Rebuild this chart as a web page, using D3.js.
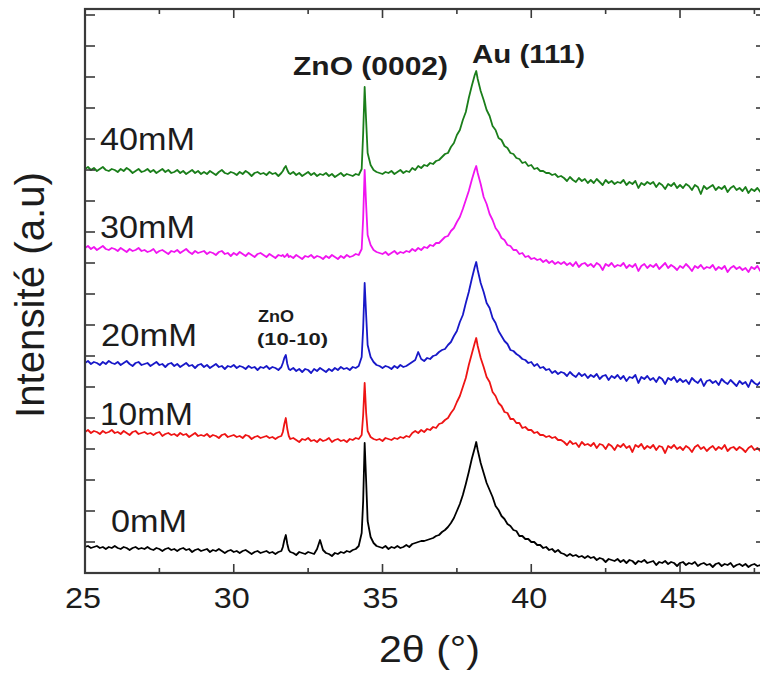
<!DOCTYPE html>
<html><head><meta charset="utf-8">
<script src="https://cdn.jsdelivr.net/npm/d3@7"></script>
<style>html,body{margin:0;padding:0;background:#fff;} svg{display:block;}</style>
</head><body><svg id="c" width="760" height="673"></svg>
<script>
// ---------- DATA (intensity in a.u.) ----------
const theta = [
25.0,25.1,25.2,25.3,25.4,25.5,25.6,25.7,25.8,25.9,
26.0,26.1,26.2,26.3,26.4,26.5,26.6,26.7,26.8,26.9,
27.0,27.1,27.2,27.3,27.4,27.5,27.6,27.7,27.8,27.9,
28.0,28.1,28.2,28.3,28.4,28.5,28.6,28.7,28.8,28.9,
29.0,29.1,29.2,29.3,29.4,29.5,29.6,29.7,29.8,29.9,
30.0,30.1,30.2,30.3,30.4,30.5,30.6,30.7,30.8,30.9,
31.0,31.1,31.2,31.3,31.4,31.5,31.6,
31.65,31.7,31.75,31.8,31.85,
31.9,32.0,32.1,32.2,32.3,32.4,32.5,32.6,32.7,32.8,32.9,
33.0,33.1,33.2,33.3,33.4,33.5,33.6,33.7,33.8,33.9,
34.0,34.1,34.2,34.3,
34.35,34.4,34.45,34.5,
34.6,34.7,34.8,34.9,
35.0,35.1,35.2,35.3,35.4,35.5,35.6,35.7,35.8,35.9,
36.0,36.1,36.2,36.3,36.4,36.5,36.6,36.7,36.8,36.9,
37.0,37.1,37.2,37.3,37.4,37.5,37.6,37.7,37.8,37.9,
38.0,38.1,38.15,38.2,38.3,38.4,38.5,38.6,38.7,38.8,38.9,
39.0,39.1,39.2,39.3,39.4,39.5,39.6,39.7,39.8,39.9,
40.0,40.1,40.2,40.3,40.4,40.5,40.6,40.7,40.8,40.9,
41.0,41.1,41.2,41.3,41.4,41.5,41.6,41.7,41.8,41.9,
42.0,42.1,42.2,42.3,42.4,42.5,42.6,42.7,42.8,42.9,
43.0,43.1,43.2,43.3,43.4,43.5,43.6,43.7,43.8,43.9,
44.0,44.1,44.2,44.3,44.4,44.5,44.6,44.7,44.8,44.9,
45.0,45.1,45.2,45.3,45.4,45.5,45.6,45.7,45.8,45.9,
46.0,46.1,46.2,46.3,46.4,46.5,46.6,46.7,46.8,46.9,
47.0,47.1,47.2,47.3,47.4,47.5,47.6,47.7,47.8,47.9
];

const int0mM = [
26,27,25,26,27,25,26,24,26,25,
27,25,24,26,25,23,25,26,24,25,
24,26,24,23,25,24,22,24,25,23,
24,22,24,25,23,24,21,23,24,22,
23,24,21,23,22,24,22,20,22,23,
21,22,20,22,23,21,19,21,22,20,
21,22,20,21,19,21,22,
26,33,38,29,23,
21,20,18,21,20,19,21,20,19,24,33,
23,20,19,17,20,19,21,20,22,21,
23,24,27,40,
72,130,92,52,
36,30,27,26,
25,27,24,26,25,27,25,26,28,26,
29,30,31,32,32,33,34,35,37,38,
41,43,46,50,55,62,69,78,89,101,
114,125,131,123,110,100,90,83,76,67,63,
57,54,49,47,43,42,37,37,34,34,
31,31,28,28,25,26,23,24,21,23,
20,19,17,19,17,18,16,17,15,17,
15,16,13,15,14,11,14,13,12,14,
11,13,10,13,12,9,12,11,13,10,
11,12,8,11,10,12,9,11,10,7,
10,11,8,10,9,11,7,9,10,8,
9,6,9,10,7,9,8,10,6,8,
9,7,9,6,8,9,7,8,6,8
];

const int10mM = [
141,143,140,142,141,139,142,140,141,143,
140,141,139,142,140,138,141,142,139,140,
141,139,140,138,140,141,137,139,140,138,
139,137,140,138,139,136,138,140,137,138,
137,139,136,138,137,135,138,139,136,137,
138,136,137,135,138,137,134,136,137,135,
136,137,135,136,134,136,137,
141,149,155,144,137,
134,135,133,131,134,133,135,132,133,131,134,
132,133,135,131,133,134,132,133,131,134,
133,135,134,138,
158,190,160,142,
136,134,133,134,
132,135,134,133,135,134,136,135,137,136,
140,142,140,143,141,144,143,146,145,149,
150,153,155,160,164,171,177,186,195,208,
219,230,235,227,215,206,196,191,181,177,170,
167,161,160,154,154,150,150,145,146,143,
143,140,141,138,138,136,137,135,136,133,
133,131,128,132,129,130,126,131,128,129,
127,130,125,129,128,124,129,127,123,128,
126,129,125,127,121,128,126,129,124,127,
125,128,123,127,126,120,127,125,128,124,
126,123,127,125,121,126,128,124,126,122,
125,127,123,126,124,128,122,125,126,123,
126,124,121,125,127,123,125,122,126,124
];

const int20mM = [
210,212,209,211,210,208,211,209,212,210,
209,211,208,210,212,209,207,210,211,208,
209,210,207,209,211,208,209,206,209,210,
207,209,206,208,210,207,208,205,208,209,
206,208,205,207,209,206,207,204,207,206,
208,205,207,206,204,207,205,206,203,206,
205,207,204,206,205,203,206,
210,215,218,209,204,
203,205,202,204,201,204,203,200,204,202,205,
203,201,204,202,205,203,206,204,205,203,
206,205,207,216,
245,290,258,228,
216,211,208,207,
205,207,206,204,207,205,208,206,207,209,
211,213,221,214,212,215,214,217,218,221,
223,224,228,231,237,242,251,258,270,281,
294,306,311,303,290,281,270,265,255,250,242,
237,232,229,223,222,219,217,214,213,210,
211,207,209,205,206,203,204,200,202,199,
201,200,197,201,198,196,200,197,199,195,
198,196,199,194,197,198,193,197,195,198,
194,197,192,196,195,198,190,196,194,197,
193,195,191,196,194,189,195,193,196,191,
194,191,193,189,195,192,190,194,187,192,
193,190,192,188,194,191,189,193,190,187,
192,189,191,186,193,190,188,191,187,190
];

const int30mM = [
325,327,324,326,323,325,327,324,323,325,
324,322,325,323,321,324,322,323,325,322,
323,321,322,324,320,322,323,321,319,322,
321,323,320,322,324,321,319,322,320,321,
322,319,321,320,318,321,322,319,320,317,
320,318,321,319,317,320,318,316,319,320,
318,316,319,317,315,318,317,
318,316,317,319,316,
317,315,318,316,314,317,316,318,315,317,316,
314,317,315,318,316,314,317,315,318,316,
317,319,318,324,
355,403,368,338,
328,323,321,320,
319,321,318,320,322,319,321,320,322,321,
324,322,325,323,326,325,328,327,330,330,
333,336,337,342,345,351,356,364,373,382,
393,403,407,400,389,376,369,359,353,345,341,
335,333,328,327,323,323,319,320,316,317,
314,315,313,314,311,313,310,312,309,311,
309,311,308,310,307,311,306,309,310,307,
309,306,310,308,303,309,307,310,306,308,
307,310,305,308,306,309,302,307,309,305,
308,306,309,304,307,310,305,308,306,303,
307,305,309,306,302,307,305,308,304,306,
305,308,303,306,304,307,301,305,307,304,
306,303,305,301,306,304,307,302,305,303
];

const int40mM = [
404,406,403,405,402,404,406,403,402,404,
403,401,404,402,405,403,400,402,404,401,
402,404,401,403,400,402,404,401,403,400,
401,403,400,402,399,401,403,400,402,399,
401,399,402,400,398,401,403,400,399,401,
400,398,401,399,402,400,397,400,401,399,
400,398,401,399,400,397,400,
402,405,407,403,400,
399,401,398,400,397,399,401,398,400,397,399,
398,400,397,399,396,398,400,397,399,398,
397,399,398,404,
440,486,452,420,
408,403,401,400,
399,401,400,402,399,401,403,400,402,401,
405,403,407,405,408,407,410,409,412,413,
416,419,420,426,430,438,443,453,461,475,
487,498,502,494,482,473,463,457,447,443,435,
433,427,425,420,419,415,414,410,411,407,
408,404,405,402,402,400,400,398,399,396,
397,395,392,396,393,391,395,392,394,390,
393,390,394,391,388,393,390,392,389,391,
390,393,388,391,389,392,385,390,388,391,
389,391,386,390,388,384,389,387,390,385,
388,385,389,387,383,388,386,379,387,384,
386,388,383,386,384,387,381,385,387,383,
385,382,386,380,384,382,385,381,383,380
];

const seriesNames = ["0mM", "10mM", "20mM", "30mM", "40mM"];
const seriesValues = [int0mM, int10mM, int20mM, int30mM, int40mM];
const xMajorTicks = [25, 30, 35, 40, 45];
const xMinorTicks = [27.5, 32.5, 37.5, 42.5, 47.5];
const xTickLabels = ["25", "30", "35", "40", "45"];
const peakLabels = ["ZnO (0002)", "Au (111)", "ZnO", "(10-10)"];
const xTitle = "2θ (°)";
const yTitle = "Intensité (a.u)";

// ---------- LAYOUT / STYLE ----------
const seriesColors = ["#000000", "#ee1414", "#1818c8", "#f014f0", "#1a7e1a"];
const FONT = "'Liberation Sans', Arial, Helvetica, sans-serif";
const plot = {left: 85, right: 766, top: 9, bottom: 573};
const svg = d3.select("#c");

const x = d3.scaleLinear().domain([25, 47.89]).range([plot.left, plot.right]);
const y = d3.scaleLinear().domain([0, 564]).range([plot.bottom, plot.top]);
const yTicks = d3.range(31, 564, 31);

svg.append("defs").append("clipPath").attr("id", "clip")
  .append("rect").attr("x", plot.left).attr("y", plot.top)
  .attr("width", plot.right - plot.left).attr("height", plot.bottom - plot.top);

// series
const line = d3.line().x((d, i) => x(theta[i])).y(d => y(d));
const gl = svg.append("g").attr("clip-path", "url(#clip)");
seriesValues.forEach((vals, k) => {
  gl.append("path").datum(vals).attr("d", line)
    .attr("fill", "none").attr("stroke", seriesColors[k])
    .attr("stroke-width", 1.8).attr("stroke-linejoin", "round");
});

// frame
const axisColor = "#3a3a3a";
svg.append("rect").attr("x", plot.left).attr("y", plot.top)
  .attr("width", plot.right - plot.left).attr("height", plot.bottom - plot.top)
  .attr("fill", "none").attr("stroke", axisColor).attr("stroke-width", 2.2);

// ticks (inward)
const tg = svg.append("g").attr("stroke", axisColor).attr("stroke-width", 1.6);
xMajorTicks.forEach(t => {
  tg.append("line").attr("x1", x(t)).attr("x2", x(t)).attr("y1", plot.bottom).attr("y2", plot.bottom - 9);
  tg.append("line").attr("x1", x(t)).attr("x2", x(t)).attr("y1", plot.top).attr("y2", plot.top + 9);
});
xMinorTicks.forEach(t => {
  tg.append("line").attr("x1", x(t)).attr("x2", x(t)).attr("y1", plot.bottom).attr("y2", plot.bottom - 5);
  tg.append("line").attr("x1", x(t)).attr("x2", x(t)).attr("y1", plot.top).attr("y2", plot.top + 5);
});
yTicks.forEach(t => {
  tg.append("line").attr("x1", plot.left).attr("x2", plot.left + 10).attr("y1", y(t)).attr("y2", y(t));
  tg.append("line").attr("x1", plot.right).attr("x2", plot.right - 10).attr("y1", y(t)).attr("y2", y(t));
});

function txt(s, px, py, size, len, weight, anchor) {
  return svg.append("text").attr("x", px).attr("y", py)
    .attr("font-family", FONT).attr("font-size", size)
    .attr("font-weight", weight || "normal")
    .attr("text-anchor", anchor || "start")
    .attr("textLength", len).attr("lengthAdjust", "spacingAndGlyphs")
    .attr("fill", "#1c1c1c").text(s);
}

// x tick labels
xMajorTicks.forEach((t, i) => txt(xTickLabels[i], x(t) - 2, 608, 30, 36, "normal", "middle"));

// axis titles
txt(xTitle, 379, 662, 37, 101, "normal", "start");
svg.append("text").attr("transform", "translate(44,295) rotate(-90)")
  .attr("font-family", FONT).attr("font-size", 40).attr("text-anchor", "middle")
  .attr("textLength", 246).attr("lengthAdjust", "spacingAndGlyphs")
  .attr("fill", "#1c1c1c").text(yTitle);

// series labels
const seriesLabelPos = [[111, 532, 76], [100, 425, 93], [101, 346, 96], [100, 238, 95], [100, 150, 95]];
seriesNames.forEach((n, k) => {
  const p = seriesLabelPos[k];
  txt(n, p[0], p[1], 31, p[2], "normal", "start");
});

// peak labels
txt(peakLabels[0], 293, 75, 25, 155, "bold");
txt(peakLabels[1], 472, 63, 25, 113, "bold");
txt(peakLabels[2], 258, 322, 16, 36, "bold");
txt(peakLabels[3], 257, 345, 17, 71, "bold");
</script>
</body></html>
